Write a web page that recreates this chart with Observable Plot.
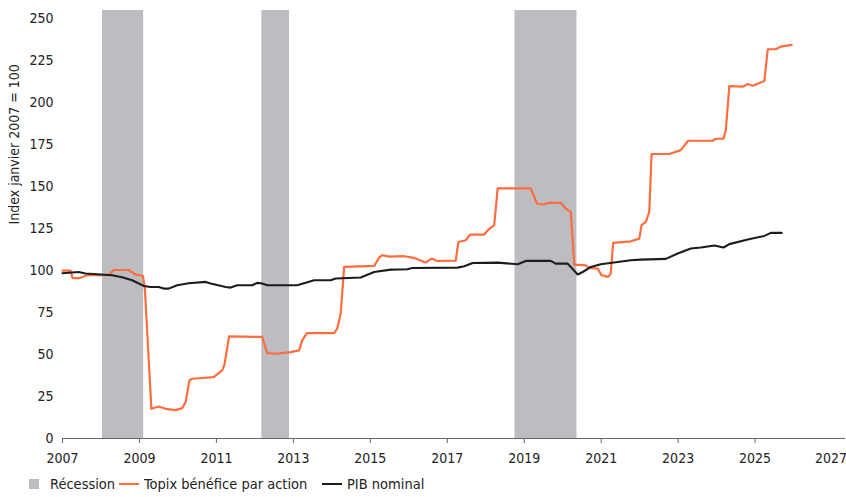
<!DOCTYPE html>
<html>
<head>
<meta charset="utf-8">
<script src="https://cdn.jsdelivr.net/npm/d3@7"></script>
<script src="https://cdn.jsdelivr.net/npm/@observablehq/plot@0.6"></script>
<style>
  html, body { margin: 0; padding: 0; background: #fff; }
  body { width: 846px; height: 497px; overflow: hidden;
         font-family: "Liberation Sans Narrow", "Arial Narrow", "DejaVu Sans Condensed", sans-serif; color: #222; }
  #legend { position: relative; height: 27px; font-size: 14.5px; }
  #legend .item { position: absolute; top: 0; height: 27px; display: flex; align-items: center; }
  #legend .sw { display: inline-block; }
</style>
</head>
<body>
<div id="chart"></div>
<div id="legend"></div>
<script>
// ---- Data ----
const recessionStart = [2008.04, 2012.18, 2018.76];
const recessionEnd   = [2009.11, 2012.90, 2020.37];

const topixYear = [2007.0, 2007.21, 2007.26, 2007.45, 2007.64, 2008.20, 2008.33, 2008.72, 2008.90, 2009.09, 2009.14,
  2009.31, 2009.50, 2009.68, 2009.94, 2010.11, 2010.20, 2010.30, 2010.37, 2010.93, 2011.15, 2011.21, 2011.33,
  2012.19, 2012.32, 2012.54, 2012.93, 2013.15, 2013.23, 2013.35, 2014.06, 2014.14, 2014.23, 2014.32, 2015.10,
  2015.23, 2015.31, 2015.49, 2015.88, 2016.14, 2016.44, 2016.59, 2016.73, 2017.22, 2017.29, 2017.48, 2017.59,
  2017.96, 2018.07, 2018.22, 2018.31, 2019.17, 2019.33, 2019.48, 2019.65, 2019.95, 2020.08, 2020.21, 2020.30,
  2020.60, 2020.69, 2020.91, 2021.01, 2021.18, 2021.25, 2021.31, 2021.77, 2021.99, 2022.05, 2022.16, 2022.25,
  2022.31, 2022.77, 2023.07, 2023.26, 2023.90, 2023.98, 2024.18, 2024.24, 2024.33, 2024.68, 2024.81, 2024.94,
  2025.24, 2025.33, 2025.54, 2025.67, 2025.95];
const topixValue = [100, 100, 95.6, 95.6, 97.3, 97.3, 100.4, 100.4, 97.7, 96.8, 89.5,
  17.7, 19.1, 17.7, 16.9, 18.1, 21.7, 34.6, 35.6, 36.6, 40.6, 44, 60.9,
  60.5, 50.9, 50.5, 51.5, 52.5, 58.5, 62.8, 62.8, 65.4, 74.4, 102.2, 102.8,
  107.8, 109.2, 108.4, 108.6, 107.6, 104.8, 107.2, 105.8, 106.0, 117.1, 118.1, 121.5,
  121.5, 124.5, 127.1, 149.0, 149.0, 140.0, 139.4, 140.4, 140.4, 137.0, 135.0, 103.6,
  103.2, 101.6, 101.2, 97.3, 96.3, 98.3, 116.5, 117.5, 119.1, 127.1, 129.1, 135.0,
  169.5, 169.5, 171.8, 177.4, 177.4, 178.6, 178.6, 183.8, 210.0, 209.6, 211.2, 210.2,
  213.0, 231.9, 231.9, 233.5, 234.5];

const pibYear = [2007.0, 2007.42, 2007.60, 2008.29, 2008.55, 2008.81, 2009.11, 2009.29, 2009.50, 2009.63, 2009.76,
  2009.98, 2010.28, 2010.72, 2010.85, 2011.24, 2011.37, 2011.54, 2011.93, 2012.06, 2012.19, 2012.32, 2013.10,
  2013.54, 2013.97, 2014.10, 2014.75, 2015.10, 2015.53, 2015.96, 2016.09, 2017.27, 2017.44, 2017.66, 2018.31,
  2018.83, 2019.04, 2019.69, 2019.82, 2020.13, 2020.39, 2020.52, 2020.73, 2020.99, 2021.77, 2022.03, 2022.68,
  2022.99, 2023.33, 2023.59, 2023.94, 2024.18, 2024.33, 2024.81, 2025.24, 2025.41, 2025.69];
const pibValue = [98.5, 99.2, 98.3, 97.3, 96.1, 94.3, 90.9, 90.3, 90.3, 89.3, 89.3,
  91.3, 92.5, 93.3, 92.3, 90.3, 89.9, 91.3, 91.3, 92.7, 92.3, 91.3, 91.3,
  94.3, 94.3, 95.3, 95.9, 99.2, 100.6, 100.8, 101.6, 101.8, 102.6, 104.6, 104.8,
  103.8, 105.8, 105.8, 104.2, 104.2, 97.7, 99.2, 102.2, 103.8, 106.2, 106.6, 107.0,
  110.2, 113.2, 113.8, 115.0, 113.8, 115.8, 118.6, 120.7, 122.5, 122.5];

const xTicks = [2007, 2009, 2011, 2013, 2015, 2017, 2019, 2021, 2023, 2025, 2027];
const yTicks = [0, 25, 50, 75, 100, 125, 150, 175, 200, 225, 250];
const yLabel = "Index janvier 2007 = 100";
const legendLabels = ["Récession", "Topix bénéfice par action", "PIB nominal"];

// ---- Build tables ----
const recessions = recessionStart.map((s, i) => ({start: s, end: recessionEnd[i]}));
const topix = topixYear.map((x, i) => ({x, y: topixValue[i]}));
const pib = pibYear.map((x, i) => ({x, y: pibValue[i]}));

const GREY = "#bcbdc1", ORANGE = "#ff6c3e", BLACK = "#1c1c1c";
const lastTick = xTicks[xTicks.length - 1];

const chart = Plot.plot({
  width: 846,
  height: 470,
  marginLeft: 62,
  marginRight: 1,
  marginTop: 10,
  marginBottom: 32,
  style: {fontSize: "14px", fontFamily: "'Liberation Sans Narrow', 'Arial Narrow', 'DejaVu Sans Condensed', sans-serif", color: "#222"},
  x: {domain: [2007, 2027.35]},
  y: {domain: [0, 255]},
  marks: [
    Plot.rect(recessions, {x1: "start", x2: "end", y1: 0, y2: 255, fill: GREY}),
    Plot.line(topix, {x: "x", y: "y", stroke: ORANGE, strokeWidth: 2.2}),
    Plot.line(pib, {x: "x", y: "y", stroke: BLACK, strokeWidth: 2.1}),
    Plot.ruleY([0], {stroke: "#666", strokeWidth: 1.2}),
    Plot.axisX({ticks: xTicks.filter(t => t !== lastTick), tickFormat: d => String(d), tickSize: 5, tickPadding: 10, label: null, stroke: "#666"}),
    Plot.axisX({ticks: [lastTick], tickFormat: d => String(d), tickSize: 5, tickPadding: 10, label: null, stroke: "#666", textAnchor: "end", dx: 15}),
    Plot.axisY({ticks: yTicks, tickSize: 0, tickPadding: 9, label: null}),
    Plot.text([yLabel], {frameAnchor: "left", dx: -48, rotate: -90, text: d => d, fontSize: 14, fill: "#222"})
  ]
});
document.getElementById("chart").appendChild(chart);

// ---- Legend ----
const legend = document.getElementById("legend");
const items = [
  {left: 29, sw: `<span class="sw" style="width:10px;height:10px;background:${GREY}"></span>`, gap: 11, text: legendLabels[0]},
  {left: 119, sw: `<span class="sw" style="width:20px;height:2px;background:${ORANGE}"></span>`, gap: 5, text: legendLabels[1]},
  {left: 322, sw: `<span class="sw" style="width:20px;height:2px;background:${BLACK}"></span>`, gap: 5, text: legendLabels[2]}
];
for (const it of items) {
  const d = document.createElement("div");
  d.className = "item";
  d.style.left = it.left + "px";
  d.innerHTML = it.sw + `<span style="margin-left:${it.gap}px">${it.text}</span>`;
  legend.appendChild(d);
}
</script>
</body>
</html>
